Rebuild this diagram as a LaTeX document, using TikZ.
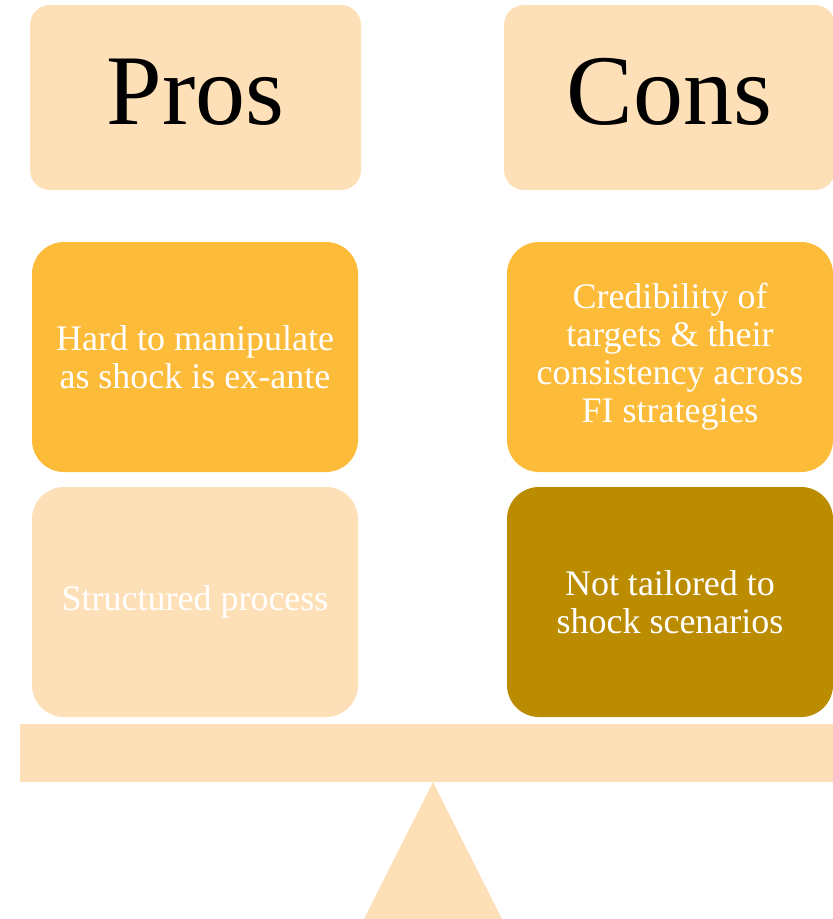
\documentclass[tikz,border=0pt]{standalone}
\usepackage{fontspec}
\setmainfont{Liberation Serif}
\definecolor{peach}{HTML}{FEE0B8}
\definecolor{gold}{HTML}{FDBB3A}
\definecolor{darkgold}{HTML}{BC8C00}
\tikzset{
  head/.style={fill=peach, rounded corners=20pt, inner sep=0pt,
    minimum width=331pt, minimum height=185pt, text height=66pt, text depth=13pt,
    font=\fontsize{100}{110}\selectfont},
  point/.style={rounded corners=32pt, inner sep=0pt, align=center, text=white,
    minimum width=326pt, minimum height=230pt,
    font=\fontsize{36}{38}\selectfont}
}

\begin{document}
\begin{tikzpicture}[x=1pt,y=-1pt]
\useasboundingbox (0,0) rectangle (833,919);
\node[head] (pros) at (195.5,97.5) {Pros};
\node[head] (cons) at (669.5,97.5) {Cons};
\node[point, fill=gold] (manip) at (195,357) {Hard to manipulate\\as shock is ex-ante};
\node[point, fill=gold] (cred) at (670,357) {Credibility of\\targets \& their\\consistency across\\FI strategies};
\node[point, fill=peach] (struct) at (195,602) {Structured process};
\node[point, fill=darkgold] (tailor) at (670,602) {Not tailored to\\shock scenarios};
\fill[peach] (20,724) rectangle (833,782);
\fill[peach] (433,782) -- (502,919) -- (364,919) -- cycle;
\end{tikzpicture}
\end{document}
